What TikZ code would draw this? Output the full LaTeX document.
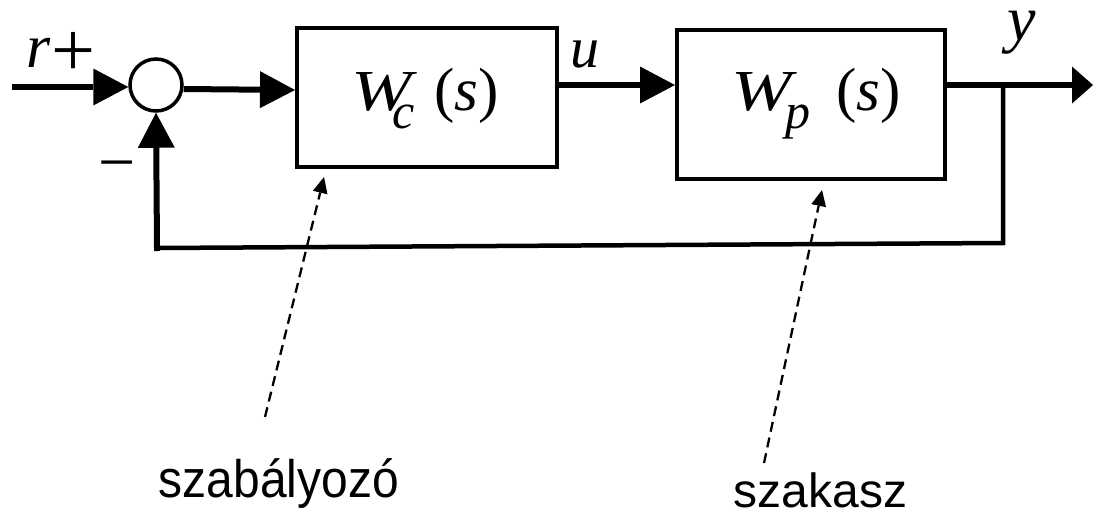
\documentclass[tikz,border=0pt]{standalone}
\usepackage{graphicx}
\usepackage{fontspec}
\setmainfont{Liberation Sans}
\newfontfamily\tmr{Liberation Serif}
\usetikzlibrary{arrows.meta}
\begin{document}
\begin{tikzpicture}[x=1pt,y=-1pt,
  sig/.style={line width=6pt,-{Triangle[length=35pt,width=37pt,line width=0pt]}},
  fb/.style={line width=4.5pt},
  blk/.style={draw,line width=4pt,inner sep=0pt},
  sumc/.style={draw,circle,line width=3.5pt,minimum size=52pt,inner sep=0pt},
  dasharrow/.style={line width=2.3pt,dash pattern=on 10pt off 6pt,-{Triangle[length=16pt,width=15pt,line width=0pt]}},
  lbl/.style={inner sep=0pt,anchor=base west},
  mathtxt/.style={font=\tmr\fontsize{58}{60}\selectfont\itshape},
  captxt/.style={font=\fontsize{48}{50}\selectfont}]
\useasboundingbox (0,0) rectangle (1094,512);

% blocks
\node[sumc] (sum) at (156,85) {};
\node[blk,minimum width=260pt,minimum height=139pt] (wc) at (427,97.5) {};
\node[blk,minimum width=268pt,minimum height=149pt] (wp) at (811,104.5) {};

% block labels
\node[lbl,mathtxt] (wcl) at (351,110) {\scalebox{1.25}[1]{W}\kern-19.5pt\raisebox{-18pt}{\fontsize{50}{52}\selectfont c}\kern20pt{\fontsize{61}{62}\selectfont{\upshape(}s{\upshape)}}};
\node[lbl,mathtxt] (wpl) at (731,110) {\scalebox{1.25}[1]{W}\kern-6.5pt\raisebox{-18pt}{\fontsize{50}{52}\selectfont p}\kern26pt{\fontsize{61}{62}\selectfont{\upshape(}s{\upshape)}}};

% signal labels
\node[lbl,font=\tmr\fontsize{62}{64}\selectfont\itshape] (rl) at (26,67) {r\upshape\kern1pt\raisebox{-9pt}{\fontsize{78}{78}\selectfont +}};
\node[lbl,mathtxt] (ul) at (570,67) {u};
\node[lbl,font=\tmr\fontsize{64}{66}\selectfont\itshape] (yl) at (1007,40) {y};
\node[lbl,font=\tmr\fontsize{66}{66}\selectfont] (minus) at (98,184.5) {−};

% captions
\node[lbl,captxt] (t1) at (158.5,497) {\scalebox{1}[1.1]{szabályozó}};
\node[lbl,captxt] (t2) at (733.5,507) {szakasz};

% connectors
\coordinate (in) at (12,87);
\draw[sig] (in) -- (in -| sum.west);
\draw[sig] (sum.east |- 0,89) -- (wc.west |- 0,90);
\draw[sig] (wc.east |- 0,85) -- (wp.west |- 0,85);
\coordinate (yend) at (1093,85);
\draw[line width=6.5pt,-{Triangle[length=21pt,width=37pt,line width=0pt]}] (wp.east |- 0,85) -- (yend);
\coordinate (br) at (1003,85);
\coordinate (brd) at (1003,243);
\coordinate (bl) at (157,248);
\draw[fb] (br) -- (brd) -- (bl);
\draw[sig,line cap=rect] (bl) -- (sum.south);

% dashed pointers
\coordinate (d1a) at (265,417);
\coordinate (d1b) at (324,177);
\draw[dasharrow] (d1a) -- (d1b);
\coordinate (d2a) at (764,463);
\coordinate (d2b) at (822,190);
\draw[dasharrow] (d2a) -- (d2b);
\end{tikzpicture}
\end{document}
